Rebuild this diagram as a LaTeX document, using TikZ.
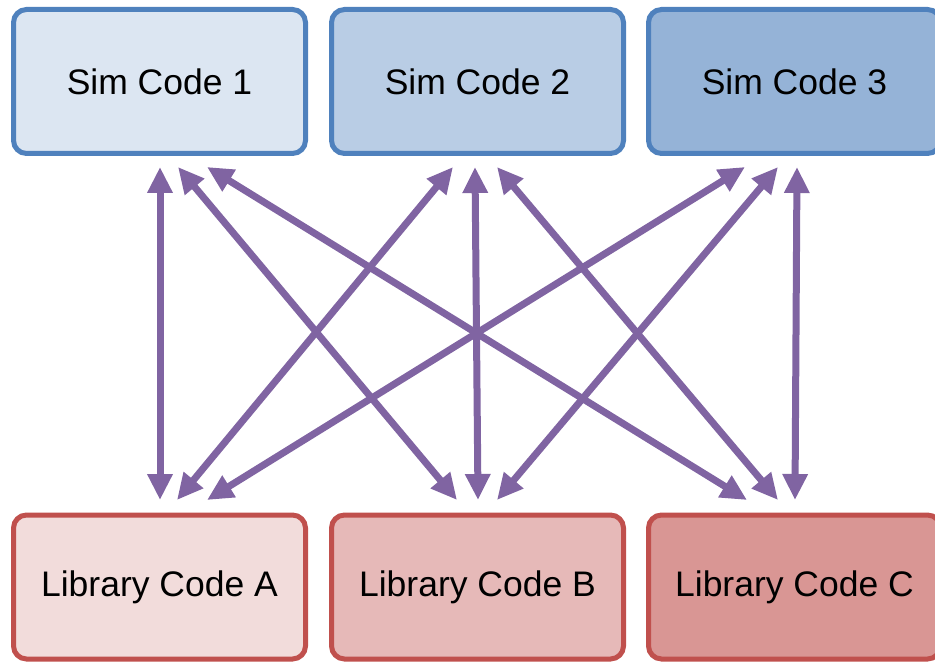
\documentclass[tikz,border=0pt]{standalone}
\usepackage{fontspec}
\setmainfont{Liberation Sans}
\usetikzlibrary{arrows.meta}
\definecolor{simborder}{HTML}{4F81BD}
\definecolor{simA}{HTML}{DCE6F2}
\definecolor{simB}{HTML}{B9CDE5}
\definecolor{simC}{HTML}{95B3D7}
\definecolor{libborder}{HTML}{C0504D}
\definecolor{libA}{HTML}{F2DCDB}
\definecolor{libB}{HTML}{E6B9B8}
\definecolor{libC}{HTML}{D99694}
\definecolor{arrowc}{HTML}{8064A2}
\tikzset{
  codebox/.style={draw, line width=5pt, rounded corners=13pt, minimum width=292pt, minimum height=144pt,
    inner sep=0pt, font=\fontsize{35.5}{42}\selectfont, text=black},
  simbox/.style={codebox, draw=simborder},
  libbox/.style={codebox, draw=libborder},
  conn/.style={draw=arrowc, line width=7pt, {Triangle[length=26pt,width=24pt]}-{Triangle[length=26pt,width=24pt]}}
}
\begin{document}
\begin{tikzpicture}[x=1pt,y=-1pt]
\useasboundingbox (0,0) rectangle (935,663);
\clip (0,0) rectangle (935,663);
\node[simbox, fill=simA] (s1) at (159.5,81.5) {Sim Code 1};
\node[simbox, fill=simB] (s2) at (477.5,81.5) {Sim Code 2};
\node[simbox, fill=simC] (s3) at (794.5,81.5) {Sim Code 3};
\node[libbox, fill=libA] (l1) at (159.5,587) {Library Code A};
\node[libbox, fill=libB] (l2) at (477.5,587) {Library Code B};
\node[libbox, fill=libC] (l3) at (794.5,587) {Library Code C};
% top tips
\coordinate (s1a) at (160,167);
\coordinate (s1b) at (178,167);
\coordinate (s1c) at (207,167);
\coordinate (s2a) at (453,167);
\coordinate (s2b) at (475,167);
\coordinate (s2c) at (497,167);
\coordinate (s3a) at (745,167);
\coordinate (s3b) at (778,167);
\coordinate (s3c) at (797,167);
% bottom tips
\coordinate (l1a) at (160,500);
\coordinate (l1b) at (177,500);
\coordinate (l1c) at (207,500);
\coordinate (l2a) at (457,500);
\coordinate (l2b) at (478,500);
\coordinate (l2c) at (497,500);
\coordinate (l3a) at (747,500);
\coordinate (l3b) at (778,500);
\coordinate (l3c) at (795,500);
\draw[conn] (s1a) -- (l1a);
\draw[conn] (s1b) -- (l2a);
\draw[conn] (s1c) -- (l3a);
\draw[conn] (s2a) -- (l1b);
\draw[conn] (s2b) -- (l2b);
\draw[conn] (s2c) -- (l3b);
\draw[conn] (s3a) -- (l1c);
\draw[conn] (s3b) -- (l2c);
\draw[conn] (s3c) -- (l3c);
\end{tikzpicture}
\end{document}
